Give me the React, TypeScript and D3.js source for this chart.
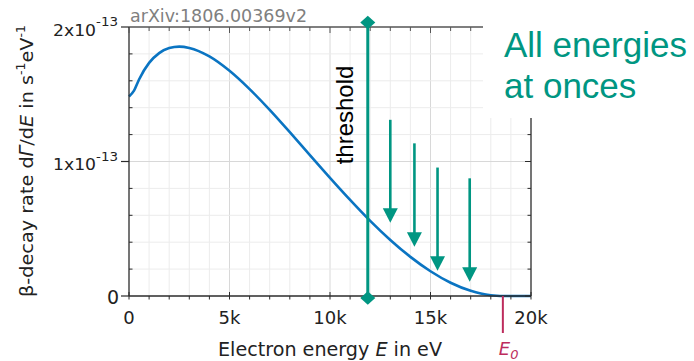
import React from "react";
import * as d3 from "d3";

// ---- data ----
const energies = [0, 250, 500, 1000, 1500, 2000, 2500, 3000, 4000, 5000, 6000, 7000, 8000, 9000, 10000, 11000, 12000, 13000, 14000, 15000, 16000, 17000, 17500, 18000, 18300, 18600, 20000];
const rates = [1.484, 1.527, 1.61, 1.733, 1.806, 1.843, 1.854, 1.844, 1.781, 1.674, 1.538, 1.384, 1.218, 1.048, 0.879, 0.715, 0.559, 0.417, 0.291, 0.184, 0.0986, 0.0384, 0.0184, 0.0055, 0.0014, 0, 0]; // in 1e-13 s^-1 eV^-1

const xTickValues = [0, 5000, 10000, 15000, 20000];
const xTickLabels = ["0", "5k", "10k", "15k", "20k"];
const yTickValues = [0, 1, 2];
const yTickMantissa = ["0", "1x10", "2x10"];
const yTickExponent = ["", "-13", "-13"];

const thresholdEnergy = 11880;
const endpointEnergy = 18600;

const arrowEnergies = [13000, 14200, 15350, 16950];
const arrowTops = [1.31, 1.135, 0.955, 0.875];
const arrowTips = [0.545, 0.367, 0.188, 0.106];

const TEAL = "#009682";
const BLUE = "#0a74c2";
const RED = "#bd2c5c";
const AXIS = "#2b2b2b";
const FONT = "'DejaVu Sans', sans-serif";
const SLIDE_FONT = "'Liberation Sans', Arial, sans-serif";

export default function App() {
  const x = d3.scaleLinear().domain([0, 20000]).range([129, 531]);
  const y = d3.scaleLinear().domain([0, 2]).range([296, 27]);

  const minorX = d3.range(1000, 20000, 1000);
  const minorY = d3.range(1, 10).map((i) => i * 0.2);

  const line = d3
    .line<number>()
    .x((_, i) => x(energies[i]))
    .y((d) => y(d))
    .curve(d3.curveMonotoneX);

  const diamond = (cx: number, cy: number) =>
    `M${cx},${cy - 6.7}L${cx + 7.5},${cy}L${cx},${cy + 6.7}L${cx - 7.5},${cy}Z`;

  const x0 = x.range()[0];
  const x1 = x.range()[1];
  const yTop = y.range()[1];
  const yBot = y.range()[0];

  return (
    <svg
      width={694}
      height={361}
      style={{ position: "absolute", left: 0, top: 0, background: "#fff" }}
      fontFamily={FONT}
    >
      {/* grid */}
      {minorX.map((v) => (
        <line
          key={"gx" + v}
          x1={x(v)}
          x2={x(v)}
          y1={yTop}
          y2={yBot}
          stroke={v % 5000 === 0 ? "#d8d8d8" : "#ececec"}
          strokeWidth={1}
        />
      ))}
      {minorY.map((v) => (
        <line
          key={"gy" + v}
          x1={x0}
          x2={x1}
          y1={y(v)}
          y2={y(v)}
          stroke={Math.abs(v - 1) < 1e-6 ? "#d8d8d8" : "#ececec"}
          strokeWidth={1}
        />
      ))}

      {/* spectrum */}
      <path d={line(rates) || ""} fill="none" stroke={BLUE} strokeWidth={2.6} />

      {/* axes frame */}
      <line x1={x0} x2={x1} y1={yBot} y2={yBot} stroke={AXIS} strokeWidth={1.3} />
      <line x1={x0} x2={x1} y1={yTop} y2={yTop} stroke="#555" strokeWidth={1.3} />
      <line x1={x0} x2={x0} y1={yTop} y2={yBot} stroke={AXIS} strokeWidth={1.3} />
      <line x1={x1} x2={x1} y1={yTop} y2={yBot} stroke={AXIS} strokeWidth={1.3} />

      {/* x ticks */}
      {d3.range(0, 20001, 1000).map((v) => {
        const major = v % 5000 === 0;
        return (
          <g key={"tx" + v}>
            <line x1={x(v)} x2={x(v)} y1={major ? yBot - 4 : yBot} y2={yBot + 3.5} stroke={AXIS} strokeWidth={1} />
            <line x1={x(v)} x2={x(v)} y1={yTop} y2={yTop + (major ? 6 : 4)} stroke="#555" strokeWidth={1} />
          </g>
        );
      })}
      {/* y ticks */}
      {d3.range(0, 11).map((i) => {
        const v = i * 0.2;
        const major = i % 5 === 0;
        return (
          <g key={"ty" + i}>
            {major ? (
              <line x1={x0 - 8} x2={x0} y1={y(v)} y2={y(v)} stroke={AXIS} strokeWidth={1.2} />
            ) : (
              <line x1={x0} x2={x0 + 3.5} y1={y(v)} y2={y(v)} stroke={AXIS} strokeWidth={1} />
            )}
            <line x1={x1 - (major ? 6 : 3.5)} x2={x1} y1={y(v)} y2={y(v)} stroke={AXIS} strokeWidth={1} />
          </g>
        );
      })}

      {/* x tick labels */}
      {xTickValues.map((v, i) => (
        <text key={"xl" + v} x={x(v)} y={324} textAnchor="middle" fontSize={18} fill="#222">
          {xTickLabels[i]}
        </text>
      ))}
      {/* y tick labels */}
      {yTickValues.map((v, i) =>
        yTickExponent[i] === "" ? (
          <text key={"yl" + v} x={119} y={y(v) + 8} textAnchor="end" fontSize={19} fill="#222">
            {yTickMantissa[i]}
          </text>
        ) : (
          <text
            key={"yl" + v}
            x={53}
            y={y(v) + 8.5}
            fontSize={16}
            fill="#222"
            textLength={65}
            lengthAdjust="spacingAndGlyphs"
          >
            {yTickMantissa[i]}
            <tspan fontSize={12.5} dy={-9.5}>
              {yTickExponent[i]}
            </tspan>
          </text>
        )
      )}

      {/* axis titles */}
      <text x={330} y={356} textAnchor="middle" fontSize={19} fill="#222" textLength={224} lengthAdjust="spacingAndGlyphs">
        Electron energy <tspan fontStyle="italic">E</tspan> in eV
      </text>
      <text
        transform="translate(33,161) rotate(-90)"
        textAnchor="middle"
        fontSize={18.5}
        fill="#222"
        textLength={272}
        lengthAdjust="spacingAndGlyphs"
      >
        β-decay rate d<tspan fontStyle="italic">Γ</tspan>/d<tspan fontStyle="italic">E</tspan> in s
        <tspan fontSize={12} dy={-8}>-1</tspan>
        <tspan dy={8}>eV</tspan>
        <tspan fontSize={12} dy={-8}>-1</tspan>
      </text>

      {/* arXiv reference */}
      <text x={130} y={21.5} fontSize={17} fill="#808080" textLength={177} lengthAdjust="spacingAndGlyphs">
        arXiv:1806.00369v2
      </text>

      {/* E0 marker */}
      <line x1={x(endpointEnergy)} x2={x(endpointEnergy)} y1={yBot} y2={333} stroke={RED} strokeWidth={2} />
      <text x={x(endpointEnergy) - 4} y={355} fontSize={18} fontStyle="italic" fill={RED}>
        E<tspan fontSize={13} dy={4}>0</tspan>
      </text>

      {/* white box behind slide text */}
      <rect x={483} y={0} width={211} height={118} fill="#fff" />
      <text x={504} y={56.7} fontSize={35} fill={TEAL} fontFamily={SLIDE_FONT}>
        All energies
      </text>
      <text x={504} y={98.3} fontSize={35} fill={TEAL} fontFamily={SLIDE_FONT}>
        at onces
      </text>

      {/* threshold */}
      <line x1={x(thresholdEnergy)} x2={x(thresholdEnergy)} y1={23} y2={297} stroke={TEAL} strokeWidth={3} />
      <path d={diamond(x(thresholdEnergy), 22.5)} fill={TEAL} />
      <path d={diamond(x(thresholdEnergy), 298)} fill={TEAL} />
      <text transform="translate(353,115) rotate(-90)" textAnchor="middle" fontSize={24} fill="#000" fontFamily={SLIDE_FONT}>
        threshold
      </text>

      {/* arrows */}
      {arrowEnergies.map((e, i) => {
        const ax = x(e);
        const tip = y(arrowTips[i]);
        const top = y(arrowTops[i]);
        return (
          <g key={"ar" + i}>
            <line x1={ax} x2={ax} y1={top} y2={tip - 12} stroke={TEAL} strokeWidth={2.6} />
            <path d={`M${ax - 7.5},${tip - 14.5}L${ax + 7.5},${tip - 14.5}L${ax},${tip}Z`} fill={TEAL} />
          </g>
        );
      })}
    </svg>
  );
}
